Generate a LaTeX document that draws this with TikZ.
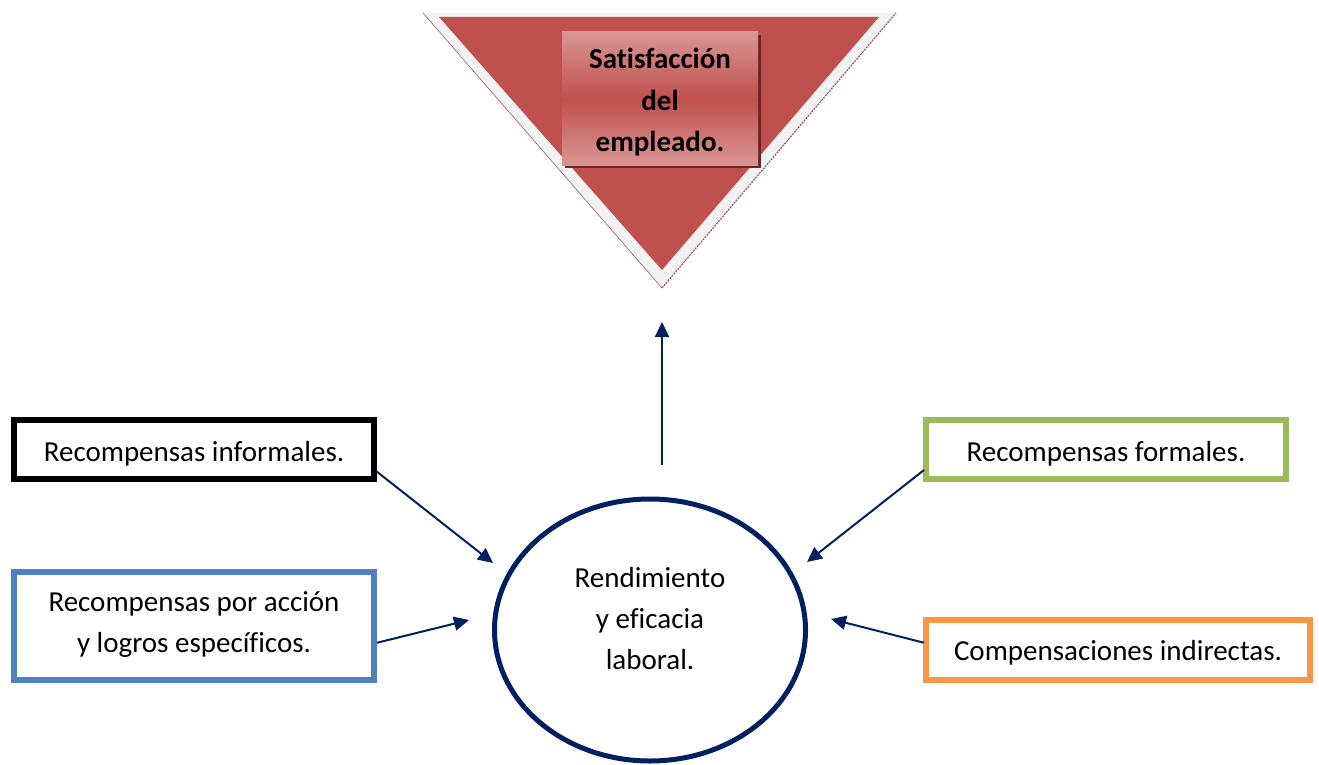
\documentclass[tikz,border=0pt]{standalone}
\usepackage{fontspec}
\setmainfont{Carlito}[Ligatures={NoCommon,TeX}]
\usetikzlibrary{arrows.meta,shapes.geometric,calc}
\definecolor{navy}{RGB}{0,32,96}
\definecolor{redfill}{RGB}{192,80,77}
\definecolor{pinkfill}{RGB}{217,150,148}
\definecolor{shadowred}{RGB}{110,36,34}
\definecolor{bordergray}{RGB}{242,242,242}
\definecolor{edgebrown}{RGB}{150,95,95}
\definecolor{bluebox}{RGB}{79,129,189}
\definecolor{greenbox}{RGB}{155,187,89}
\definecolor{orangebox}{RGB}{247,150,70}
\tikzset{
  txt/.style={font=\fontsize{29}{41}\selectfont, align=center, text=black, inner sep=0pt},
  rbox/.style={rectangle, line width=6pt, inner sep=0pt, fill=white},
  conn/.style={draw=navy, line width=2pt, -{Triangle[length=15pt,width=14pt]}},
}
\begin{document}
\begin{tikzpicture}[x=1pt,y=-1pt]
\useasboundingbox (0,0) rectangle (1319,765);
% triangle
\coordinate (ot1) at (423,13);
\coordinate (ot2) at (896,13);
\coordinate (ot3) at (662,288);
\fill[bordergray] (ot1) -- (ot2) -- (ot3) -- cycle;
\draw[edgebrown, line width=0.6pt] (ot1) -- (ot3);
\draw[edgebrown, line width=1.2pt, dash pattern=on 2pt off 1pt] (ot3) -- (ot2);
\coordinate (it1) at (439,17);
\coordinate (it2) at (879,17);
\coordinate (it3) at (662,270);
\fill[redfill] (it1) -- (it2) -- (it3) -- cycle;
% satisfaction box
\fill[shadowred] (565,35) rectangle (761,168);
\node[rectangle, minimum width=196pt, minimum height=133pt, inner sep=0pt,
      top color=pinkfill, bottom color=pinkfill, middle color=redfill] (sat) at (660,98.5) {};
\node[txt, font=\fontsize{29}{41.5}\selectfont\bfseries] (satt) at ($(sat.center)+(0,4)$)
      {Satisfacción\\del\\empleado.};
% central ellipse
\node[ellipse, draw=navy, line width=5pt, minimum width=311pt, minimum height=262pt, inner sep=0pt] (rend) at (650,630) {};
\node[txt] (rendt) at ($(rend.center)+(0,-11)$) {Rendimiento\\y eficacia\\laboral.};
% boxes
\node[rbox, draw=black, minimum width=360pt, minimum height=59.5pt] (inf) at (194,449.25) {};
\node[txt] (inft) at ($(inf.center)+(0,5)$) {Recompensas informales.};
\node[rbox, draw=bluebox, minimum width=360pt, minimum height=108.5pt] (acc) at (194,625.75) {};
\node[txt] (acct) at ($(acc.center)+(0,-1)$) {Recompensas por acción\\y logros específicos.};
\node[rbox, draw=greenbox, minimum width=360pt, minimum height=59.5pt] (form) at (1106,449.25) {};
\node[txt] (formt) at ($(form.center)+(0,5)$) {Recompensas formales.};
\node[rbox, draw=orangebox, minimum width=384pt, minimum height=60.5pt] (comp) at (1118,649.75) {};
\node[txt] (compt) at ($(comp.center)+(0,3)$) {Compensaciones indirectas.};
% arrow endpoints
\coordinate (upS) at (662,465);
\coordinate (upE) at (662,322);
\coordinate (infS) at ($(inf.south east)+(-1,-11)$);
\coordinate (infE) at (493,563);
\coordinate (accS) at ($(acc.east)+(0,17)$);
\coordinate (accE) at (469,620);
\coordinate (formS) at ($(form.south west)+(1,-12)$);
\coordinate (formE) at (807,562);
\coordinate (compS) at ($(comp.west)+(1,-7)$);
\coordinate (compE) at (831,619);
\draw[conn] (upS) -- (upE);
\draw[conn] (infS) -- (infE);
\draw[conn] (accS) -- (accE);
\draw[conn] (formS) -- (formE);
\draw[conn] (compS) -- (compE);
\end{tikzpicture}
\end{document}
